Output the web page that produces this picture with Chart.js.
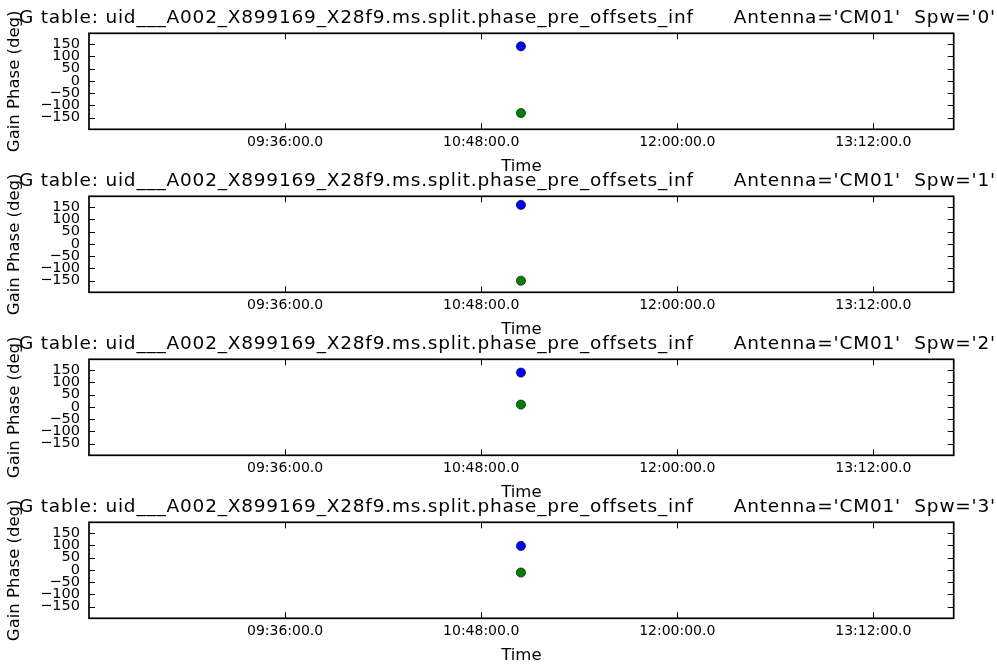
<!DOCTYPE html>
<html>
<head>
<meta charset="utf-8">
<script src="https://cdn.jsdelivr.net/npm/chart.js@4/dist/chart.umd.min.js"></script>
<style>
  html, body { margin: 0; padding: 0; background: #fff; overflow: hidden; }
  #fig { position: relative; width: 997px; height: 668px; }
  #fig canvas { position: absolute; left: 0; }
</style>
</head>
<body>
<div id="fig"></div>
<script>
// data (time in minutes since midnight)
const spwIds = ['0', '1', '2', '3'];
const solTime = [662.6, 662.6, 662.6, 662.6];
const phaseBlue = [140, 158, 139, 97];
const phaseGreen = [-131, -150, 9, -11];
const timeTicks = [576, 648, 720, 792];
const phaseTicks = [-150, -100, -50, 0, 50, 100, 150];

const tableName = 'uid___A002_X899169_X28f9.ms.split.phase_pre_offsets_inf';
const antenna = 'CM01';

Chart.defaults.color = '#000';
Chart.defaults.font.family = "'DejaVu Sans', sans-serif";

function fmtTime(m) {
  const h = Math.floor(m / 60);
  const mm = Math.round(m - h * 60);
  return String(h).padStart(2, '0') + ':' + String(mm).padStart(2, '0') + ':00.0';
}

// frame + inward ticks like matplotlib classic, plus the title line
const mplFrame = {
  id: 'mplFrame',
  afterDraw(chart, args, opts) {
    const ctx = chart.ctx;
    const a = chart.chartArea;
    const xs = chart.scales.x, ys = chart.scales.y;
    ctx.save();
    ctx.strokeStyle = '#000';
    ctx.lineWidth = 1;
    const tl = 6;
    ctx.beginPath();
    timeTicks.forEach(t => {
      const px = Math.round(xs.getPixelForValue(t)) + 0.5;
      ctx.moveTo(px, a.bottom); ctx.lineTo(px, a.bottom - tl);
      ctx.moveTo(px, a.top); ctx.lineTo(px, a.top + tl);
    });
    phaseTicks.forEach(v => {
      const py = Math.round(ys.getPixelForValue(v)) + 0.5;
      ctx.moveTo(a.left, py); ctx.lineTo(a.left + tl, py);
      ctx.moveTo(a.right, py); ctx.lineTo(a.right - tl, py);
    });
    ctx.stroke();
    ctx.lineWidth = 1.7;
    ctx.strokeRect(a.left, a.top, a.right - a.left, a.bottom - a.top);
    ctx.fillStyle = '#000';
    ctx.font = "18.5px 'DejaVu Sans'";
    ctx.letterSpacing = '0.8px';
    ctx.textBaseline = 'alphabetic';
    ctx.textAlign = 'left';
    ctx.fillText(opts.text, 19, 22.5);
    ctx.restore();
  }
};

const fig = document.getElementById('fig');

spwIds.forEach((spw, i) => {
  const cv = document.createElement('canvas');
  cv.width = 997;
  cv.height = 180;
  cv.style.top = (i * 163) + 'px';
  fig.appendChild(cv);

  new Chart(cv, {
    type: 'scatter',
    data: {
      datasets: [{
        data: [{x: solTime[i], y: phaseBlue[i]}],
        backgroundColor: '#0000ff',
        borderColor: '#000',
        borderWidth: 0.6,
        pointRadius: 4.6
      }, {
        data: [{x: solTime[i], y: phaseGreen[i]}],
        backgroundColor: '#008000',
        borderColor: '#000',
        borderWidth: 0.6,
        pointRadius: 4.6
      }]
    },
    options: {
      responsive: false,
      animation: false,
      devicePixelRatio: 1,
      layout: { padding: { top: 33.3, right: 43.3, left: 0, bottom: 0 } },
      plugins: {
        legend: { display: false },
        tooltip: { enabled: false },
        mplFrame: { text: 'G table: ' + tableName + '      Antenna=\'' + antenna + '\'  Spw=\'' + spw + '\'' }
      },
      scales: {
        x: {
          type: 'linear',
          min: 504,
          max: 821.5,
          grid: { display: false, drawTicks: false },
          border: { display: false },
          afterBuildTicks: s => { s.ticks = timeTicks.map(v => ({ value: v })); },
          afterFit: s => { s.height = 50.7; },
          ticks: {
            autoSkip: false,
            maxRotation: 0,
            padding: 5,
            font: { size: 14 },
            callback: v => fmtTime(v)
          },
          title: {
            display: true,
            text: 'Time',
            font: { size: 16.5 },
            padding: { top: 0, bottom: 3 }
          }
        },
        y: {
          min: -197,
          max: 193,
          grid: { display: false, drawTicks: false },
          border: { display: false },
          afterBuildTicks: s => { s.ticks = phaseTicks.map(v => ({ value: v })); },
          afterFit: s => { s.width = 89; },
          ticks: {
            autoSkip: false,
            padding: 9,
            font: { size: 14.5 },
            callback: v => (v < 0 ? '\u2212' + Math.abs(v) : String(v))
          },
          title: {
            display: true,
            text: 'Gain Phase (deg)',
            font: { size: 16.5 },
            padding: { top: 5, bottom: 0 }
          }
        }
      }
    },
    plugins: [mplFrame]
  });
});
</script>
</body>
</html>
